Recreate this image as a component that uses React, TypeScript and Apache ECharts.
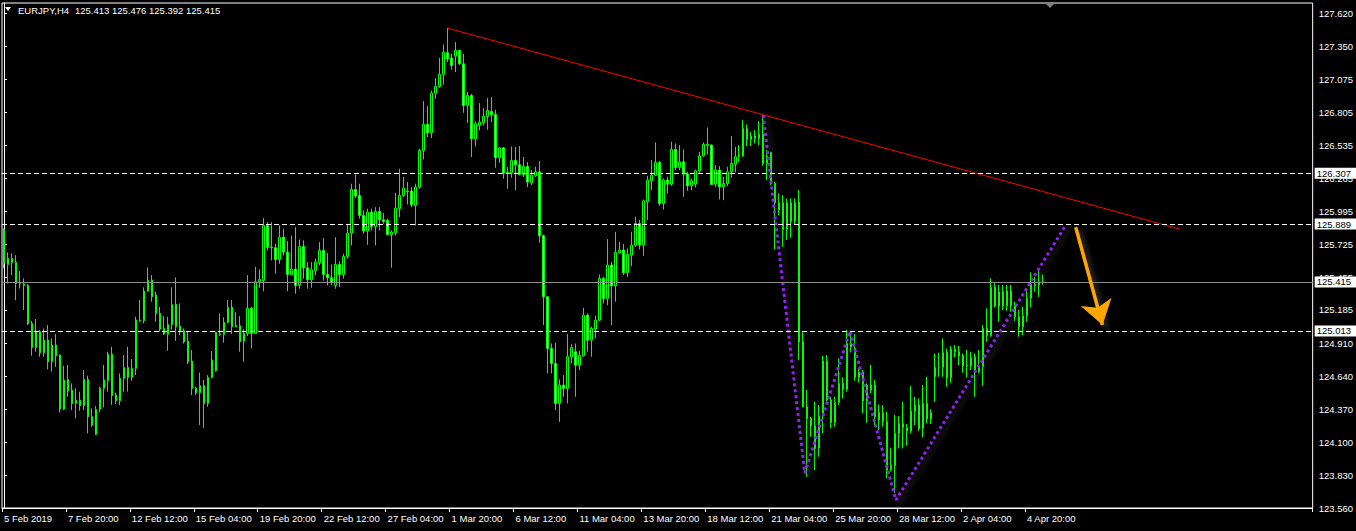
import React, { useEffect, useRef } from "react";
import * as echarts from "echarts";

const symbolTitle = "EURJPY,H4";
const lastQuote = [125.413, 125.476, 125.392, 125.415];
const xTickLabels = [
  "5 Feb 2019", "7 Feb 20:00", "12 Feb 12:00", "15 Feb 04:00", "19 Feb 20:00", "22 Feb 12:00",
  "27 Feb 04:00", "1 Mar 20:00", "6 Mar 12:00", "11 Mar 04:00", "13 Mar 20:00", "18 Mar 12:00",
  "21 Mar 04:00", "25 Mar 20:00", "28 Mar 12:00", "2 Apr 04:00", "4 Apr 20:00",
];
const barsPerLabel = 16;
const totalSlots = 328;
const yTicks = [
  127.62, 127.35, 127.075, 126.805, 126.535, 126.265, 125.995, 125.725,
  125.455, 125.185, 124.91, 124.64, 124.37, 124.1, 123.83, 123.56,
];

const opens = [
  125.845,125.558,125.608,125.575,125.402,125.397,125.386,125.074,124.877,125.006,
  124.834,124.938,124.760,124.897,124.815,124.372,124.615,124.527,124.418,124.445,
  124.399,124.615,124.309,124.164,124.369,124.541,124.604,124.823,124.486,124.440,
  124.623,124.713,124.631,124.705,125.096,125.096,125.340,125.430,125.307,125.156,
  124.987,124.984,125.066,125.230,125.052,125.014,124.929,124.765,124.541,124.506,
  124.563,124.418,124.631,124.686,124.984,124.984,125.083,125.206,125.047,125.055,
  124.929,124.992,125.197,124.992,125.416,125.427,125.878,125.700,125.695,125.599,
  125.782,125.659,125.476,125.520,125.391,125.706,125.531,125.432,125.509,125.572,
  125.673,125.476,125.449,125.386,125.558,125.476,125.624,125.815,126.173,126.124,
  125.960,125.832,125.987,125.870,125.993,125.925,125.919,125.804,125.818,126.015,
  126.124,126.160,126.160,126.042,126.193,126.493,126.707,126.638,126.964,127.018,
  127.117,127.294,127.251,127.267,127.314,127.204,126.862,126.944,126.589,126.698,
  126.720,126.772,126.813,126.789,126.433,126.515,126.310,126.310,126.411,126.376,
  126.296,126.362,126.228,126.285,126.318,125.793,125.293,124.869,124.746,124.418,
  124.568,124.541,124.801,124.842,124.732,124.809,125.142,124.937,125.028,125.101,
  125.443,125.279,125.553,125.383,125.654,125.676,125.490,125.635,125.717,125.894,
  125.717,126.072,126.244,126.291,126.395,126.058,126.250,126.217,126.501,126.354,
  126.400,126.299,126.203,126.217,126.326,126.449,126.534,126.537,126.217,126.332,
  126.195,126.222,126.318,126.381,126.441,126.449,126.674,126.583,126.611,126.592,
  126.627,126.387,126.477,126.222,126.064,126.064,125.845,126.064,125.913,126.070,
  124.924,124.391,124.295,124.232,124.049,124.314,124.766,124.446,124.262,124.426,
  124.582,124.533,124.878,124.869,124.632,124.673,124.437,124.569,124.569,124.344,
  124.268,124.268,123.871,123.907,124.172,124.219,124.219,124.191,124.355,124.405,
  124.213,124.418,124.290,124.637,124.714,124.714,124.837,124.629,124.861,124.842,
  124.809,124.727,124.725,124.796,124.678,124.719,124.973,124.973,125.370,125.217,
  125.334,125.219,125.342,125.219,125.129,125.047,125.137,125.280,125.397,125.389,
  125.413,
];
const highs = [
  125.854,125.657,125.649,125.635,125.504,125.443,125.397,125.093,125.110,125.020,
  125.033,125.061,124.951,124.987,124.820,124.727,124.733,124.582,124.541,124.514,
  124.692,124.645,124.377,124.396,124.555,124.733,124.842,124.883,124.506,124.664,
  124.815,124.883,124.782,125.129,125.266,125.370,125.534,125.471,125.334,125.211,
  125.134,125.129,125.370,125.452,125.238,125.033,125.006,124.856,124.555,124.672,
  124.610,124.650,124.847,125.006,125.156,125.124,125.266,125.266,125.167,125.134,
  125.025,125.471,125.211,125.539,125.517,125.938,125.905,125.905,125.728,125.878,
  125.851,125.750,125.796,125.864,125.763,125.755,125.577,125.577,125.605,125.741,
  125.774,125.651,125.558,125.782,125.583,125.646,125.892,126.220,126.296,126.220,
  126.001,126.015,126.015,126.028,126.028,125.979,125.933,125.837,126.146,126.343,
  126.275,126.234,126.193,126.220,126.507,126.898,126.857,126.985,127.087,127.253,
  127.363,127.497,127.286,127.382,127.319,127.286,126.972,126.958,126.731,126.882,
  126.841,126.923,126.931,126.827,126.521,126.521,126.357,126.526,126.521,126.529,
  126.439,126.398,126.332,126.359,126.406,125.804,125.298,124.910,124.915,124.615,
  124.650,124.987,124.904,124.910,124.850,125.203,125.156,125.047,125.137,125.476,
  125.457,125.766,125.580,125.826,125.744,125.725,125.689,125.826,125.949,125.922,
  126.091,126.285,126.414,126.559,126.408,126.263,126.277,126.564,126.551,126.537,
  126.501,126.318,126.263,126.337,126.482,126.559,126.682,126.542,126.373,126.365,
  126.277,126.359,126.611,126.523,126.537,126.742,126.706,126.646,126.660,126.734,
  126.783,126.496,126.482,126.236,126.140,126.127,126.099,126.099,126.099,126.168,
  125.006,124.528,124.309,124.432,124.405,124.807,124.815,124.473,124.473,124.787,
  124.632,125.020,124.979,124.987,124.705,124.692,124.582,124.733,124.610,124.410,
  124.405,124.350,124.055,124.323,124.314,124.432,124.249,124.560,124.473,124.459,
  124.569,124.637,124.369,124.828,124.834,124.951,124.869,124.889,124.897,124.889,
  124.828,124.856,124.842,124.828,124.856,125.061,125.198,125.444,125.403,125.389,
  125.389,125.389,125.389,125.252,125.184,125.211,125.362,125.493,125.457,125.512,
  125.476,
];
const lows = [
  125.526,125.402,125.471,125.266,125.361,125.184,125.061,124.809,124.842,124.801,
  124.801,124.697,124.678,124.719,124.344,124.363,124.473,124.363,124.295,124.358,
  124.363,124.172,124.227,124.158,124.344,124.385,124.514,124.404,124.413,124.404,
  124.514,124.514,124.604,124.650,125.088,125.074,125.334,125.252,125.088,125.006,
  124.979,124.850,125.025,124.932,124.979,124.910,124.741,124.486,124.486,124.240,
  124.218,124.391,124.623,124.678,124.970,124.916,125.074,124.987,125.042,124.842,
  124.760,124.970,124.869,124.987,125.367,125.337,125.673,125.591,125.482,125.564,
  125.632,125.337,125.468,125.318,125.359,125.441,125.359,125.367,125.468,125.550,
  125.427,125.386,125.386,125.359,125.372,125.441,125.605,125.714,126.105,125.933,
  125.810,125.719,125.837,125.714,125.837,125.892,125.796,125.531,125.796,125.946,
  126.110,126.050,126.028,125.878,126.179,126.419,126.603,126.594,126.917,127.007,
  127.035,127.218,127.155,127.136,127.196,126.802,126.720,126.439,126.526,126.657,
  126.698,126.663,126.726,126.351,126.392,126.261,126.179,126.269,126.165,126.288,
  126.275,126.193,126.209,126.277,125.736,125.060,124.664,124.664,124.363,124.267,
  124.472,124.418,124.746,124.472,124.691,124.801,124.842,124.801,124.951,125.093,
  125.238,125.224,125.060,125.252,125.648,125.471,125.457,125.544,125.703,125.681,
  125.629,125.922,126.168,126.285,126.039,126.009,126.140,126.203,126.332,126.332,
  126.113,126.162,126.168,126.190,126.310,126.441,126.460,126.209,126.195,126.091,
  126.086,126.201,126.269,126.313,126.400,126.441,126.529,126.529,126.551,126.537,
  126.367,126.250,126.209,125.681,125.963,125.703,125.758,125.777,125.881,124.773,
  124.385,123.817,124.145,123.871,123.981,124.172,124.432,124.213,124.227,124.405,
  124.459,124.514,124.837,124.604,124.588,124.336,124.260,124.500,124.227,124.200,
  124.227,123.803,123.858,123.685,124.049,124.049,124.071,124.172,124.241,124.194,
  124.137,124.254,124.249,124.432,124.637,124.637,124.555,124.588,124.796,124.733,
  124.670,124.632,124.692,124.473,124.664,124.563,124.924,124.965,125.206,125.088,
  125.184,125.178,125.170,125.096,124.965,124.979,125.088,125.206,125.334,125.293,
  125.392,
];
const closes = [
  125.567,125.608,125.575,125.402,125.397,125.386,125.074,124.877,125.011,124.834,
  124.938,124.760,124.897,124.809,124.372,124.610,124.522,124.418,124.445,124.399,
  124.615,124.309,124.240,124.369,124.541,124.610,124.823,124.484,124.440,124.623,
  124.713,124.631,124.705,125.102,125.102,125.340,125.430,125.293,125.156,125.028,
  125.033,125.066,125.230,125.047,125.009,124.924,124.760,124.541,124.506,124.563,
  124.418,124.631,124.774,125.001,124.992,125.083,125.206,125.047,125.058,124.924,
  124.992,125.197,124.992,125.416,125.435,125.878,125.700,125.695,125.599,125.782,
  125.659,125.476,125.520,125.386,125.706,125.531,125.432,125.514,125.577,125.673,
  125.476,125.449,125.408,125.558,125.476,125.624,125.815,126.173,126.119,125.960,
  125.832,125.987,125.870,125.993,125.925,125.911,125.804,125.823,126.020,126.124,
  126.184,126.154,126.048,126.193,126.493,126.707,126.638,126.964,127.018,127.117,
  127.300,127.245,127.191,127.314,127.204,126.862,126.944,126.589,126.712,126.726,
  126.772,126.821,126.786,126.433,126.515,126.307,126.316,126.411,126.376,126.296,
  126.362,126.234,126.291,126.318,125.793,125.293,124.869,124.746,124.418,124.568,
  124.541,124.801,124.877,124.732,124.812,125.142,124.937,125.033,125.101,125.443,
  125.279,125.553,125.383,125.656,125.676,125.490,125.640,125.717,125.894,125.717,
  126.080,126.250,126.291,126.395,126.058,126.250,126.217,126.501,126.354,126.400,
  126.299,126.203,126.244,126.326,126.449,126.542,126.545,126.214,126.332,126.195,
  126.222,126.318,126.387,126.441,126.455,126.674,126.583,126.611,126.592,126.627,
  126.387,126.447,126.222,126.064,126.004,125.845,126.064,125.913,126.064,124.921,
  124.391,124.295,124.235,124.049,124.314,124.766,124.446,124.262,124.426,124.582,
  124.533,124.910,124.910,124.632,124.673,124.437,124.569,124.528,124.309,124.282,
  124.344,123.871,123.912,124.172,124.254,124.254,124.191,124.355,124.405,124.213,
  124.418,124.290,124.344,124.714,124.719,124.837,124.629,124.864,124.842,124.809,
  124.727,124.733,124.796,124.670,124.719,125.034,125.034,125.370,125.217,125.334,
  125.219,125.342,125.219,125.129,125.047,125.137,125.280,125.397,125.384,125.416,
  125.415,
];

const dashedLevels = [126.307, 125.889, 125.013];
const askLevel = 125.415;
const trendLine = [[111, 127.497], [294.2, 125.848]];
const zigzag = [[190, 126.783], [200.4, 123.847], [211.7, 125.011], [223.2, 123.625], [265.4, 125.864]];
const arrowFrom = [268.2, 125.864];
const arrowTo = [274.9, 125.061];

const FONT = "Liberation Sans";
const FS = 9.5;

export default function App() {
  const ref = useRef<HTMLDivElement>(null);

  useEffect(() => {
    if (!ref.current) return;
    const chart = echarts.init(ref.current, null, { renderer: "svg" });

    const categories = Array.from({ length: totalSlots }, (_, i) => String(i));
    const candleData = opens.map((o, i) => [o, closes[i], lows[i], highs[i]]);
    const showAt = (idx: number) =>
      idx % barsPerLabel === 0 && idx / barsPerLabel < xTickLabels.length;

    const levelLabel = (v: number) => ({
      show: true,
      position: "end",
      distance: 2,
      formatter: v.toFixed(3),
      color: "#000",
      backgroundColor: "#fff",
      padding: [1, 5, 0, 2],
      fontSize: FS,
      fontFamily: FONT,
    });

    chart.setOption({
      animation: false,
      backgroundColor: "#000",
      grid: {
        left: 2,
        top: 3,
        width: 1313,
        height: 505,
        show: true,
        borderColor: "#fff",
        borderWidth: 1,
        backgroundColor: "#000",
      },
      xAxis: [
        {
          type: "category",
          data: categories,
          boundaryGap: true,
          axisLine: { show: true, lineStyle: { color: "#fff", width: 1 } },
          axisTick: {
            show: true,
            interval: (idx: number) => showAt(idx),
            length: 4,
            lineStyle: { color: "#fff" },
          },
          axisLabel: {
            interval: (idx: number) => showAt(idx),
            formatter: (_v: string, idx: number) => xTickLabels[idx / barsPerLabel] ?? "",
            align: "left",
            color: "#fff",
            fontSize: FS,
            fontFamily: FONT,
            margin: 5,
          },
          splitLine: { show: false },
        },
        {
          type: "value",
          min: -0.5,
          max: totalSlots - 0.5,
          show: false,
        },
      ],
      yAxis: {
        type: "value",
        position: "right",
        min: 123.56,
        max: 127.703,
        axisLine: { show: true, lineStyle: { color: "#fff" } },
        axisTick: {
          show: true,
          length: 3,
          customValues: yTicks,
          lineStyle: { color: "#fff" },
        },
        axisLabel: {
          customValues: yTicks,
          formatter: (v: number) => v.toFixed(3),
          color: "#fff",
          fontSize: FS,
          fontFamily: FONT,
          margin: 6,
        },
        splitLine: { show: false },
      },
      series: [
        {
          type: "candlestick",
          data: candleData,
          barWidth: 2,
          itemStyle: {
            color: "#000",
            color0: "#fff",
            borderColor: "#00ff00",
            borderColor0: "#00ff00",
            borderColorDoji: "#00ff00",
            borderWidth: 1,
          },
          markLine: {
            silent: true,
            symbol: ["none", "none"],
            animation: false,
            precision: 3,
            data: [
              ...dashedLevels.map((v) => ({
                yAxis: v,
                lineStyle: { color: "#fff", type: [5, 3], width: 1 },
                label: levelLabel(v),
              })),
              {
                yAxis: askLevel,
                lineStyle: { color: "#8c8c8c", type: "solid", width: 1 },
                label: levelLabel(askLevel),
              },
            ],
          },
        },
        {
          type: "line",
          xAxisIndex: 1,
          data: trendLine,
          symbol: "none",
          silent: true,
          lineStyle: { color: "#ff0000", width: 1 },
          markLine: {
            silent: true,
            animation: false,
            symbol: ["none", "arrow"],
            symbolSize: 24,
            label: { show: false },
            lineStyle: {
              color: "#ffa500",
              width: 3.5,
              type: "solid",
              shadowColor: "rgba(90,90,90,0.6)",
              shadowBlur: 5,
              shadowOffsetX: 4,
              shadowOffsetY: 3,
            },
            itemStyle: { color: "#ffa500" },
            data: [[{ coord: arrowFrom }, { coord: arrowTo }]],
          },
        },
        {
          type: "line",
          xAxisIndex: 1,
          data: zigzag,
          symbol: "none",
          silent: true,
          lineStyle: {
            color: "#8f22f0",
            width: 3,
            type: [3, 3],
            cap: "butt",
            shadowColor: "rgba(90,90,90,0.55)",
            shadowBlur: 5,
            shadowOffsetX: 4,
            shadowOffsetY: 3,
          },
        },
      ],
      graphic: [
        {
          type: "polygon",
          shape: { points: [[5, 7], [11, 7], [8, 11]] },
          style: { fill: "#fff" },
        },
        {
          type: "text",
          x: 18,
          y: 5,
          style: { text: symbolTitle, fill: "#fff", fontSize: FS, fontFamily: FONT },
        },
        {
          type: "text",
          x: 75,
          y: 5,
          style: {
            text: lastQuote.map((v) => v.toFixed(3)).join(" "),
            fill: "#fff",
            fontSize: FS,
            fontFamily: FONT,
          },
        },
        {
          type: "polygon",
          shape: { points: [[1044, 2], [1056, 2], [1050, 8]] },
          style: { fill: "#808080" },
        },
      ],
    });

    return () => chart.dispose();
  }, []);

  return (
    <div
      ref={ref}
      style={{ position: "fixed", left: 0, top: 0, width: 1356, height: 531, background: "#000" }}
    />
  );
}
